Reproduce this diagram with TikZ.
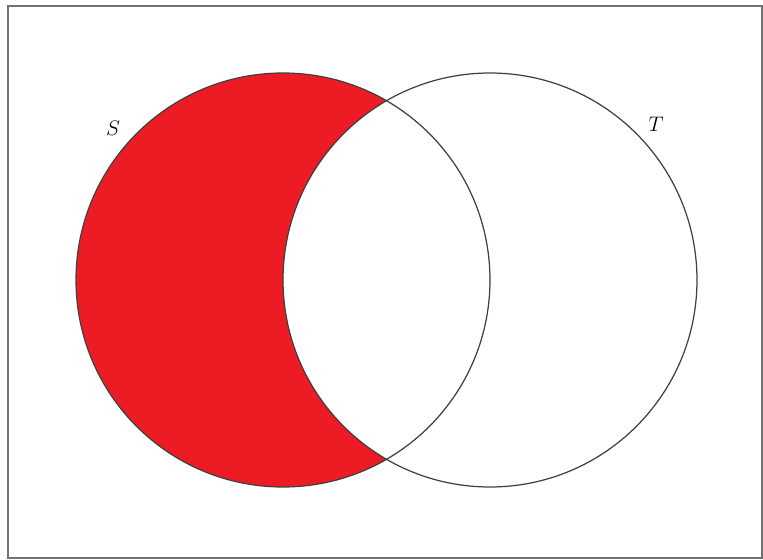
\documentclass[tikz,border=0pt]{standalone}
\usepackage{amsmath}
\usepackage{tikz}
\usetikzlibrary{positioning,calc}
\definecolor{setred}{RGB}{237,28,36}
\tikzset{
  frame/.style={draw=black!55, line width=0.9pt},
  setline/.style={draw=black!75, line width=0.7pt},
  setfill/.style={fill=setred},
  lbl/.style={font=\large, inner sep=1pt},
}
\begin{document}
\begin{tikzpicture}
    \useasboundingbox (0,0) rectangle (15.26,-11.2);
    \coordinate (cS) at (5.66,-5.60);
    \coordinate (cT) at (9.80,-5.60);
    \draw[frame] (0.16,-0.12) rectangle (15.24,-11.16);
    % S minus T
    \begin{scope}
      \clip (cS) circle (4.14);
      \fill[setfill, even odd rule] (cS) circle (4.14) (cT) circle (4.14);
    \end{scope}
    \draw[setline] (cS) circle (4.14);
    \draw[setline] (cT) circle (4.14);
    \node[lbl] (lS) at (2.26,-2.56) {$S$};
    \node[lbl] (lT) at (13.12,-2.48) {$T$};
  \end{tikzpicture}
\end{document}
